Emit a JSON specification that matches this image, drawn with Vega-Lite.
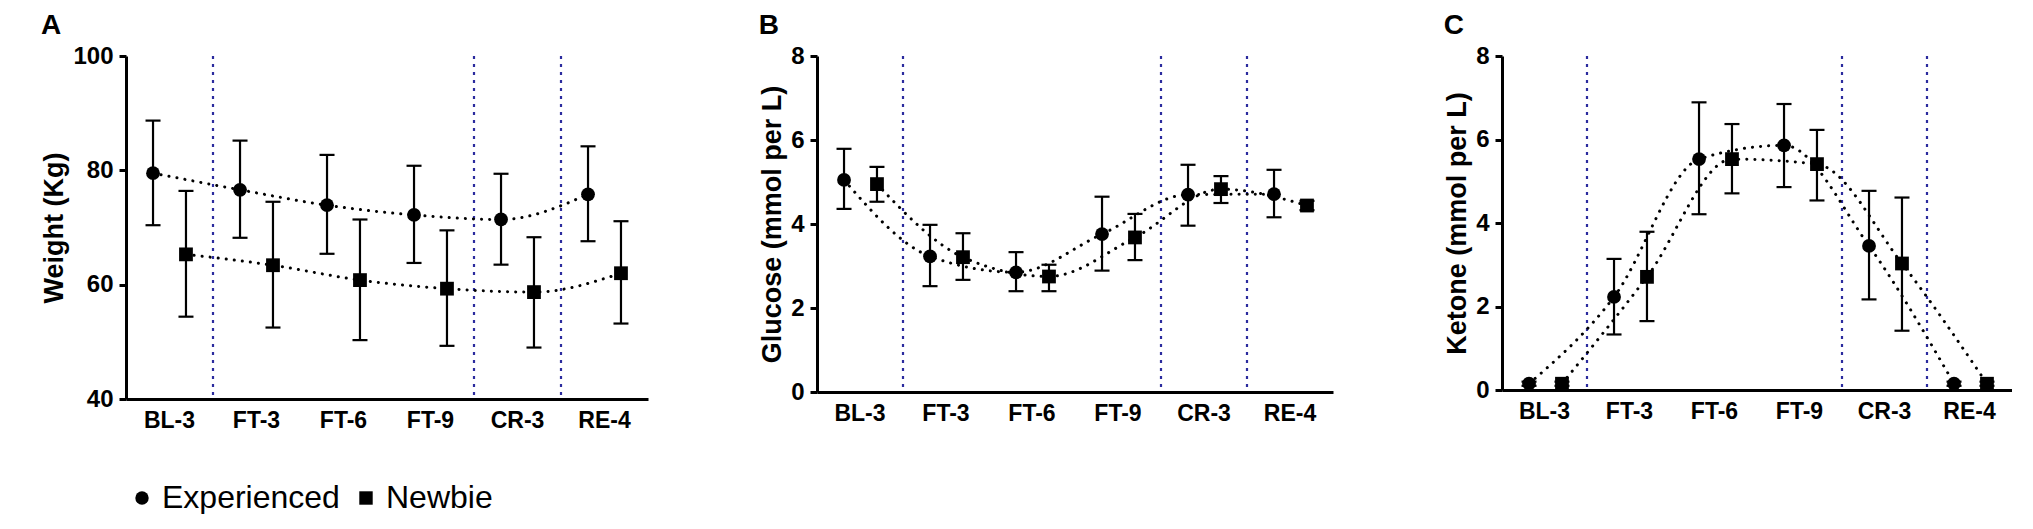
{
  "$schema": "https://vega.github.io/schema/vega-lite/v6.json",
  "background": "white",
  "padding": {"left": 40, "top": 12, "right": 0, "bottom": 0},
  "config": {
    "font": "Liberation Sans",
    "view": {"stroke": null},
    "axis": {
      "grid": false,
      "domainColor": "black",
      "domainWidth": 3,
      "tickColor": "black",
      "tickWidth": 3,
      "tickSize": 7,
      "labelColor": "black",
      "labelFontSize": 24,
      "labelFontWeight": "bold",
      "labelPadding": 6,
      "titleColor": "black",
      "titleFontSize": 27,
      "titleFontWeight": "bold"
    },
    "axisX": {"ticks": false, "labelFontSize": 23, "labelPadding": 10, "labelAngle": 0},
    "title": {"fontSize": 28, "fontWeight": "bold", "color": "black", "anchor": "start"}
  },
  "datasets": {
    "weight": [
      {"t": "BL-3", "g": "Experienced", "m": 79.5, "lo": 70.4, "hi": 88.7},
      {"t": "BL-3", "g": "Newbie", "m": 65.3, "lo": 54.4, "hi": 76.4},
      {"t": "FT-3", "g": "Experienced", "m": 76.6, "lo": 68.2, "hi": 85.2},
      {"t": "FT-3", "g": "Newbie", "m": 63.4, "lo": 52.5, "hi": 74.5},
      {"t": "FT-6", "g": "Experienced", "m": 73.9, "lo": 65.4, "hi": 82.7},
      {"t": "FT-6", "g": "Newbie", "m": 60.8, "lo": 50.3, "hi": 71.4},
      {"t": "FT-9", "g": "Experienced", "m": 72.2, "lo": 63.8, "hi": 80.8},
      {"t": "FT-9", "g": "Newbie", "m": 59.3, "lo": 49.3, "hi": 69.5},
      {"t": "CR-3", "g": "Experienced", "m": 71.4, "lo": 63.5, "hi": 79.4},
      {"t": "CR-3", "g": "Newbie", "m": 58.7, "lo": 49.0, "hi": 68.3},
      {"t": "RE-4", "g": "Experienced", "m": 75.8, "lo": 67.6, "hi": 84.2},
      {"t": "RE-4", "g": "Newbie", "m": 62.0, "lo": 53.2, "hi": 71.1}
    ],
    "glucose": [
      {"t": "BL-3", "g": "Experienced", "m": 5.05, "lo": 4.36, "hi": 5.79},
      {"t": "BL-3", "g": "Newbie", "m": 4.95, "lo": 4.53, "hi": 5.36},
      {"t": "FT-3", "g": "Experienced", "m": 3.23, "lo": 2.52, "hi": 3.98},
      {"t": "FT-3", "g": "Newbie", "m": 3.21, "lo": 2.67, "hi": 3.78},
      {"t": "FT-6", "g": "Experienced", "m": 2.85, "lo": 2.4, "hi": 3.33},
      {"t": "FT-6", "g": "Newbie", "m": 2.75, "lo": 2.4, "hi": 3.03},
      {"t": "FT-9", "g": "Experienced", "m": 3.76, "lo": 2.89, "hi": 4.65},
      {"t": "FT-9", "g": "Newbie", "m": 3.68, "lo": 3.14, "hi": 4.24},
      {"t": "CR-3", "g": "Experienced", "m": 4.7, "lo": 3.96, "hi": 5.41},
      {"t": "CR-3", "g": "Newbie", "m": 4.83, "lo": 4.5, "hi": 5.14},
      {"t": "RE-4", "g": "Experienced", "m": 4.71, "lo": 4.16, "hi": 5.29},
      {"t": "RE-4", "g": "Newbie", "m": 4.44, "lo": 4.33, "hi": 4.55}
    ],
    "ketone": [
      {"t": "BL-3", "g": "Experienced", "m": 0.15, "lo": 0.1, "hi": 0.2},
      {"t": "BL-3", "g": "Newbie", "m": 0.15, "lo": 0.1, "hi": 0.2},
      {"t": "FT-3", "g": "Experienced", "m": 2.23, "lo": 1.33, "hi": 3.14},
      {"t": "FT-3", "g": "Newbie", "m": 2.71, "lo": 1.65, "hi": 3.79},
      {"t": "FT-6", "g": "Experienced", "m": 5.53, "lo": 4.21, "hi": 6.89},
      {"t": "FT-6", "g": "Newbie", "m": 5.53, "lo": 4.71, "hi": 6.37},
      {"t": "FT-9", "g": "Experienced", "m": 5.86, "lo": 4.86, "hi": 6.85},
      {"t": "FT-9", "g": "Newbie", "m": 5.41, "lo": 4.54, "hi": 6.23},
      {"t": "CR-3", "g": "Experienced", "m": 3.45, "lo": 2.17, "hi": 4.77},
      {"t": "CR-3", "g": "Newbie", "m": 3.03, "lo": 1.42, "hi": 4.61},
      {"t": "RE-4", "g": "Experienced", "m": 0.15, "lo": 0.1, "hi": 0.2},
      {"t": "RE-4", "g": "Newbie", "m": 0.15, "lo": 0.1, "hi": 0.2}
    ],
    "separators": [{"t": "FT-3"}, {"t": "CR-3"}, {"t": "RE-4"}]
  },
  "spacing": 110,
  "hconcat": [
    {
      "width": 522,
      "height": 343,
      "title": "A",
      "layer": [
        {
          "data": {"name": "separators"},
          "mark": {"type": "rule", "color": "#2b2b9e", "strokeWidth": 2.2, "strokeDash": [3, 5]},
          "encoding": {
            "x": {"field": "t", "type": "nominal", "bandPosition": 0, "sort": null, "title": null,
                  "scale": {"domain": ["BL-3", "FT-3", "FT-6", "FT-9", "CR-3", "RE-4"], "paddingInner": 0, "paddingOuter": 0}}
          }
        },
        {
          "data": {"name": "weight"},
          "mark": {"type": "rule", "color": "black", "strokeWidth": 2.2},
          "encoding": {
            "x": {"field": "t", "type": "nominal", "sort": null, "title": null},
            "xOffset": {"field": "g", "type": "nominal", "scale": {"paddingInner": 0, "paddingOuter": 0.32}},
            "y": {"field": "lo", "type": "quantitative", "scale": {"domain": [40, 100], "nice": false, "zero": false},
                  "axis": {"values": [40, 60, 80, 100], "title": "Weight (Kg)"}},
            "y2": {"field": "hi"}
          }
        },
        {
          "data": {"name": "weight"},
          "transform": [{"fold": ["lo", "hi"], "as": ["k", "v"]}],
          "mark": {"type": "point", "shape": "stroke", "filled": false, "color": "black", "opacity": 1, "strokeWidth": 2.2, "size": 225},
          "encoding": {
            "x": {"field": "t", "type": "nominal", "sort": null, "title": null},
            "xOffset": {"field": "g", "type": "nominal"},
            "y": {"field": "v", "type": "quantitative", "axis": {"values": [40, 60, 80, 100], "title": "Weight (Kg)"}}
          }
        },
        {
          "data": {"name": "weight"},
          "mark": {"type": "line", "color": "black", "strokeWidth": 3, "strokeDash": [0.1, 8], "strokeCap": "round", "interpolate": "monotone"},
          "encoding": {
            "x": {"field": "t", "type": "nominal", "sort": null, "title": null},
            "xOffset": {"field": "g", "type": "nominal"},
            "y": {"field": "m", "type": "quantitative", "axis": {"values": [40, 60, 80, 100], "title": "Weight (Kg)"}},
            "detail": {"field": "g", "type": "nominal"}
          }
        },
        {
          "data": {"name": "weight"},
          "mark": {"type": "point", "filled": true, "color": "black", "opacity": 1, "size": 190},
          "encoding": {
            "x": {"field": "t", "type": "nominal", "sort": null, "title": null},
            "xOffset": {"field": "g", "type": "nominal"},
            "y": {"field": "m", "type": "quantitative", "axis": {"values": [40, 60, 80, 100], "title": "Weight (Kg)"}},
            "shape": {"field": "g", "type": "nominal", "scale": {"domain": ["Experienced", "Newbie"], "range": ["circle", "square"]},
              "legend": {"orient": "bottom", "offset": 50, "direction": "horizontal", "title": null, "labelFontSize": 32, "labelLimit": 400, "symbolSize": 180, "labelColor": "black"}}
          }
        }
      ]
    },
    {
      "width": 516,
      "height": 336,
      "title": "B",
      "layer": [
        {
          "data": {"name": "separators"},
          "mark": {"type": "rule", "color": "#2b2b9e", "strokeWidth": 2.2, "strokeDash": [3, 5]},
          "encoding": {
            "x": {"field": "t", "type": "nominal", "bandPosition": 0, "sort": null, "title": null,
                  "scale": {"domain": ["BL-3", "FT-3", "FT-6", "FT-9", "CR-3", "RE-4"], "paddingInner": 0, "paddingOuter": 0}}
          }
        },
        {
          "data": {"name": "glucose"},
          "mark": {"type": "rule", "color": "black", "strokeWidth": 2.2},
          "encoding": {
            "x": {"field": "t", "type": "nominal", "sort": null, "title": null},
            "xOffset": {"field": "g", "type": "nominal", "scale": {"paddingInner": 0, "paddingOuter": 0.32}},
            "y": {"field": "lo", "type": "quantitative", "scale": {"domain": [0, 8], "nice": false},
                  "axis": {"values": [0, 2, 4, 6, 8], "title": "Glucose (mmol per L)"}},
            "y2": {"field": "hi"}
          }
        },
        {
          "data": {"name": "glucose"},
          "transform": [{"fold": ["lo", "hi"], "as": ["k", "v"]}],
          "mark": {"type": "point", "shape": "stroke", "filled": false, "color": "black", "opacity": 1, "strokeWidth": 2.2, "size": 225},
          "encoding": {
            "x": {"field": "t", "type": "nominal", "sort": null, "title": null},
            "xOffset": {"field": "g", "type": "nominal"},
            "y": {"field": "v", "type": "quantitative", "axis": {"values": [0, 2, 4, 6, 8], "title": "Glucose (mmol per L)"}}
          }
        },
        {
          "data": {"name": "glucose"},
          "mark": {"type": "line", "color": "black", "strokeWidth": 3, "strokeDash": [0.1, 8], "strokeCap": "round", "interpolate": "monotone"},
          "encoding": {
            "x": {"field": "t", "type": "nominal", "sort": null, "title": null},
            "xOffset": {"field": "g", "type": "nominal"},
            "y": {"field": "m", "type": "quantitative", "axis": {"values": [0, 2, 4, 6, 8], "title": "Glucose (mmol per L)"}},
            "detail": {"field": "g", "type": "nominal"}
          }
        },
        {
          "data": {"name": "glucose"},
          "mark": {"type": "point", "filled": true, "color": "black", "opacity": 1, "size": 190},
          "encoding": {
            "x": {"field": "t", "type": "nominal", "sort": null, "title": null},
            "xOffset": {"field": "g", "type": "nominal"},
            "y": {"field": "m", "type": "quantitative", "axis": {"values": [0, 2, 4, 6, 8], "title": "Glucose (mmol per L)"}},
            "shape": {"field": "g", "type": "nominal", "scale": {"domain": ["Experienced", "Newbie"], "range": ["circle", "square"]},
              "legend": {"orient": "bottom", "offset": 50, "direction": "horizontal", "title": null, "labelFontSize": 32, "labelLimit": 400, "symbolSize": 180, "labelColor": "black"}}
          }
        }
      ]
    },
    {
      "width": 510,
      "height": 334,
      "title": "C",
      "layer": [
        {
          "data": {"name": "separators"},
          "mark": {"type": "rule", "color": "#2b2b9e", "strokeWidth": 2.2, "strokeDash": [3, 5]},
          "encoding": {
            "x": {"field": "t", "type": "nominal", "bandPosition": 0, "sort": null, "title": null,
                  "scale": {"domain": ["BL-3", "FT-3", "FT-6", "FT-9", "CR-3", "RE-4"], "paddingInner": 0, "paddingOuter": 0}}
          }
        },
        {
          "data": {"name": "ketone"},
          "mark": {"type": "rule", "color": "black", "strokeWidth": 2.2},
          "encoding": {
            "x": {"field": "t", "type": "nominal", "sort": null, "title": null},
            "xOffset": {"field": "g", "type": "nominal", "scale": {"paddingInner": 0, "paddingOuter": 0.32}},
            "y": {"field": "lo", "type": "quantitative", "scale": {"domain": [0, 8], "nice": false},
                  "axis": {"values": [0, 2, 4, 6, 8], "title": "Ketone (mmol per L)"}},
            "y2": {"field": "hi"}
          }
        },
        {
          "data": {"name": "ketone"},
          "transform": [{"fold": ["lo", "hi"], "as": ["k", "v"]}],
          "mark": {"type": "point", "shape": "stroke", "filled": false, "color": "black", "opacity": 1, "strokeWidth": 2.2, "size": 225},
          "encoding": {
            "x": {"field": "t", "type": "nominal", "sort": null, "title": null},
            "xOffset": {"field": "g", "type": "nominal"},
            "y": {"field": "v", "type": "quantitative", "axis": {"values": [0, 2, 4, 6, 8], "title": "Ketone (mmol per L)"}}
          }
        },
        {
          "data": {"name": "ketone"},
          "mark": {"type": "line", "color": "black", "strokeWidth": 3, "strokeDash": [0.1, 8], "strokeCap": "round", "interpolate": "monotone"},
          "encoding": {
            "x": {"field": "t", "type": "nominal", "sort": null, "title": null},
            "xOffset": {"field": "g", "type": "nominal"},
            "y": {"field": "m", "type": "quantitative", "axis": {"values": [0, 2, 4, 6, 8], "title": "Ketone (mmol per L)"}},
            "detail": {"field": "g", "type": "nominal"}
          }
        },
        {
          "data": {"name": "ketone"},
          "mark": {"type": "point", "filled": true, "color": "black", "opacity": 1, "size": 190},
          "encoding": {
            "x": {"field": "t", "type": "nominal", "sort": null, "title": null},
            "xOffset": {"field": "g", "type": "nominal"},
            "y": {"field": "m", "type": "quantitative", "axis": {"values": [0, 2, 4, 6, 8], "title": "Ketone (mmol per L)"}},
            "shape": {"field": "g", "type": "nominal", "scale": {"domain": ["Experienced", "Newbie"], "range": ["circle", "square"]},
              "legend": {"orient": "bottom", "offset": 50, "direction": "horizontal", "title": null, "labelFontSize": 32, "labelLimit": 400, "symbolSize": 180, "labelColor": "black"}}
          }
        }
      ]
    }
  ]
}
